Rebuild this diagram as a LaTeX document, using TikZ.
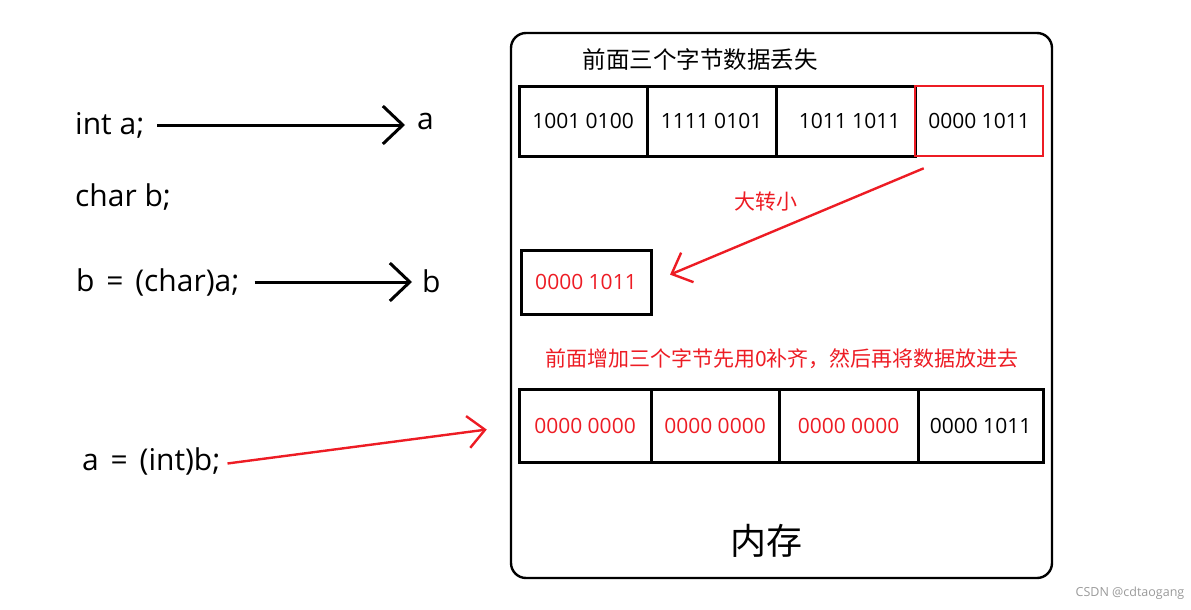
\documentclass[tikz,border=0pt]{standalone}
\usepackage{fontspec}
\setmainfont{Open Sans}
\newfontfamily\cjk{Noto Sans CJK SC}
\usetikzlibrary{arrows.meta,positioning,calc}
\definecolor{paintred}{HTML}{ED1C24}
\definecolor{markgray}{HTML}{9A9A9A}

\begin{document}
\begin{tikzpicture}[
  x=1pt, y=-1pt,
  cell/.style={draw, line width=3pt, minimum height=70pt, inner sep=0pt,
               font=\fontsize{21}{24}\selectfont},
  code/.style={anchor=west, inner sep=3pt, font=\fontsize{30}{34}\selectfont},
  note/.style={text=paintred, inner sep=1pt},
  flow/.style={-{Straight Barb[length=20pt,width=38pt]}, line width=3pt},
  redflow/.style={-{Straight Barb[length=17pt,width=32pt]}, line width=2.4pt, draw=paintred}
]
\useasboundingbox (0,0) rectangle (1191,610);

% memory frame
\node[draw, rounded corners=15pt, line width=2.4pt, minimum width=541pt,
      minimum height=545pt] (memory) at (781.5,305.5) {};
\node[font=\cjk\fontsize{36}{40}\selectfont] (memlabel) at (766,541) {内存};
\node[font=\cjk\fontsize{23.5}{26}\selectfont] (losttitle) at (700,60) {前面三个字节数据丢失};

% int in memory
\node[cell, minimum width=128pt] (top1) at (583,121) {1001 0100};
\node[cell, minimum width=129pt] (top2) at (711.5,121) {1111 0101};
\node[cell, minimum width=139pt] (top3) at (845.5,121) {\hspace{8pt}1011 1011};
\node[cell, minimum width=128pt, draw=paintred, line width=2.6pt] (top4) at (979,121) {0000 1011};

% char after cast
\node[cell, minimum width=130pt, minimum height=64pt, text=paintred] (mid) at (586,282)
  {\raisebox{-5pt}{0000 1011}};
\node[note, font=\cjk\fontsize{21}{25}\selectfont] (shrink) at (766,202) {大转小};

% int after cast back
\node[note, font=\cjk\fontsize{21}{25}\selectfont] (padnote) at (782,359)
  {前面增加三个字节先用0补齐，然后再将数据放进去};
\node[cell, minimum width=132pt, minimum height=73pt, text=paintred] (bot1) at (585,425.5) {0000 0000};
\node[cell, minimum width=128pt, minimum height=73pt, text=paintred] (bot2) at (715,425.5) {0000 0000};
\node[cell, minimum width=139pt, minimum height=73pt, text=paintred] (bot3) at (848.5,425.5) {0000 0000};
\node[cell, minimum width=125pt, minimum height=73pt] (bot4) at (980.5,425.5) {0000 1011};

% code lines
\node[code] (inta) at (72,125) {int a;};
\node[code] (charb) at (72,197) {char b;};
\node[code] (castb) at (73,282) {b\hspace{4pt} =\hspace{4pt} (char)a;};
\node[code] (casta) at (79,461) {a\hspace{4pt} =\hspace{4pt} (int)b;};
\node[code] (vara) at (414,121) {a};
\node[code] (varb) at (419,281) {b};

\draw[flow, shorten <=10pt, shorten >=9pt] (inta.east) -- (inta.east -| vara.west);
\draw[flow, shorten <=12pt, shorten >=7pt] (castb.east) -- (castb.east -| varb.west);
\draw[redflow, shorten >=19pt] ([shift={(10,11)}]top4.south west) -- (mid.east);
\draw[redflow, shorten <=4pt, shorten >=31pt] ([yshift=-3pt]casta.east) -- (bot1.west);

\node[text=markgray, font=\fontsize{12.5}{15}\selectfont] (mark) at (1130,593) {CSDN @cdtaogang};
\end{tikzpicture}
\end{document}
